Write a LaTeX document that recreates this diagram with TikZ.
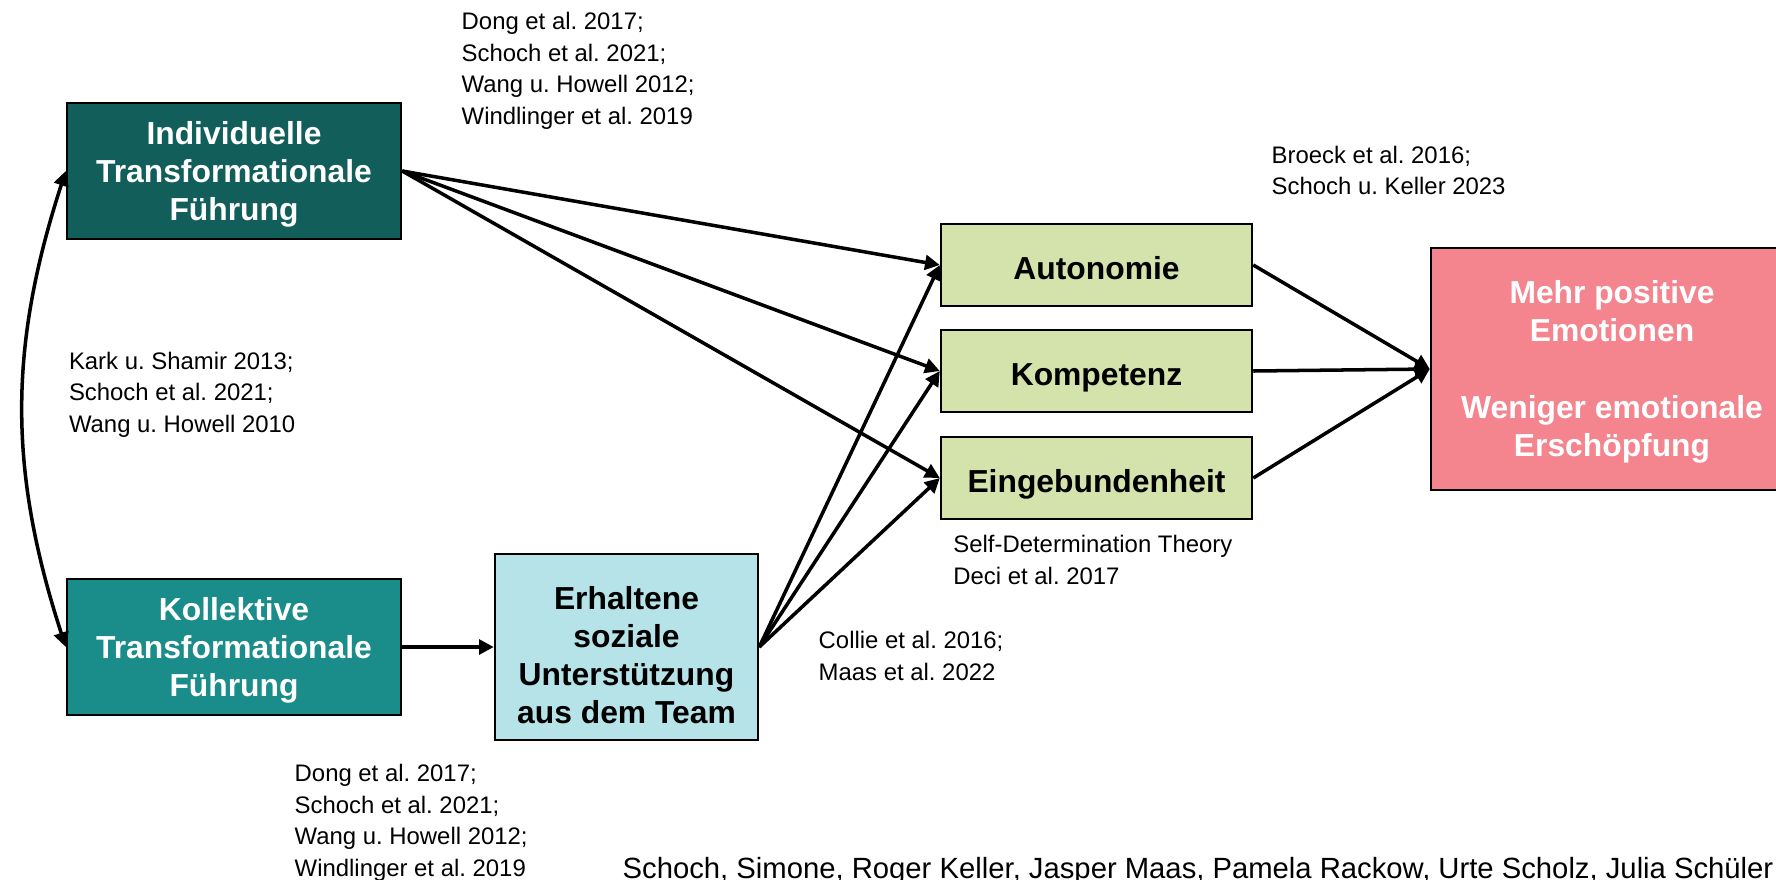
\documentclass[tikz,border=0pt]{standalone}
\usepackage{fontspec}
\setmainfont{Liberation Sans}
\usetikzlibrary{arrows.meta}
\frenchspacing

\definecolor{indivteal}{RGB}{17,94,91}
\definecolor{kollteal}{RGB}{26,140,138}
\definecolor{teamcyan}{RGB}{182,227,232}
\definecolor{needgreen}{RGB}{211,227,171}
\definecolor{emored}{RGB}{244,133,143}

\begin{document}
\begin{tikzpicture}[
    >={Triangle[length=4.2pt,width=4.2pt]},
    box/.style={draw=black, line width=0.7pt, align=center, inner sep=0pt,
        font=\fontsize{9.05}{10.9}\selectfont\bfseries},
    lead/.style={box, fill=#1, text=white, minimum width=3.34cm, minimum height=1.36cm, text depth=0pt},
    need/.style={box, fill=needgreen, minimum width=3.11cm, minimum height=0.82cm, text height=8.2pt, text depth=0pt},
    ref/.style={anchor=base west, align=left, inner sep=0pt, font=\fontsize{6.8}{8.95}\selectfont},
    link/.style={->, line width=1pt}
]
    % Page
    \useasboundingbox (0,0) rectangle (17.76,8.79);
    \clip (0,0) rectangle (17.76,8.79);
    \fill[white] (0,0) rectangle (17.76,8.79);

    % Leadership
    \node[lead=indivteal] (indiv) at (2.34,7.08) {Individuelle\\Transformationale\\Führung};
    \node[lead=kollteal] (koll) at (2.34,2.32) {Kollektive\\Transformationale\\Führung};

    % Support from the team
    \node[box, fill=teamcyan, minimum width=2.63cm, minimum height=1.86cm, text height=43.8pt, text depth=0pt] (team) at (6.265,2.32)
        {Erhaltene\\soziale\\Unterstützung\\aus dem Team};

    % Basic needs
    \node[need] (auto) at (10.965,6.14) {Autonomie};
    \node[need] (komp) at (10.965,5.08) {Kompetenz};
    \node[need] (eing) at (10.965,4.01) {Eingebundenheit};

    % Outcome
    \node[box, fill=emored, text=white, minimum width=3.62cm, minimum height=2.42cm, text height=51.8pt] (emo) at (16.12,5.10)
        {Mehr positive\\Emotionen\\[10.9pt]Weniger emotionale\\Erschöpfung};

    % Arrows
    \draw[link, <->] (indiv.west) to[bend right=18] (koll.west);
    \draw[link] (indiv.east) -- (auto.west);
    \draw[link] (indiv.east) -- (komp.west);
    \draw[link] (indiv.east) -- (eing.west);
    \draw[link] (koll.east) -- (team.west);
    \draw[link] (team.east) -- (auto.west);
    \draw[link] (team.east) -- (komp.west);
    \draw[link] (team.east) -- (eing.west);
    \draw[link] (auto.east) -- (emo.west);
    \draw[link] (komp.east) -- (emo.west);
    \draw[link] (eing.east) -- (emo.west);

    % References (placed at the baseline of the last line)
    \node[ref] (refIndiv) at (4.61,7.55) {Dong et al. 2017;\\Schoch et al. 2021;\\Wang u. Howell 2012;\\Windlinger et al. 2019};
    \node[ref] (refEmo) at (12.71,6.845) {Broeck et al. 2016;\\Schoch u. Keller 2023};
    \node[ref] (refCorr) at (0.683,4.467) {Kark u. Shamir 2013;\\Schoch et al. 2021;\\Wang u. Howell 2010};
    \node[ref] (refSdt) at (9.527,2.947) {Self-Determination Theory\\Deci et al. 2017};
    \node[ref] (refTeam) at (8.18,1.986) {Collie et al. 2016;\\Maas et al. 2022};
    \node[ref] (refKoll) at (2.94,0.028) {Dong et al. 2017;\\Schoch et al. 2021;\\Wang u. Howell 2012;\\Windlinger et al. 2019};

    % Source
    \node[anchor=base west, inner sep=0pt, font=\fontsize{8.32}{10}\selectfont] (source) at (6.22,0.01)
        {Schoch, Simone, Roger Keller, Jasper Maas, Pamela Rackow, Urte Scholz, Julia Schüler};
\end{tikzpicture}
\end{document}
